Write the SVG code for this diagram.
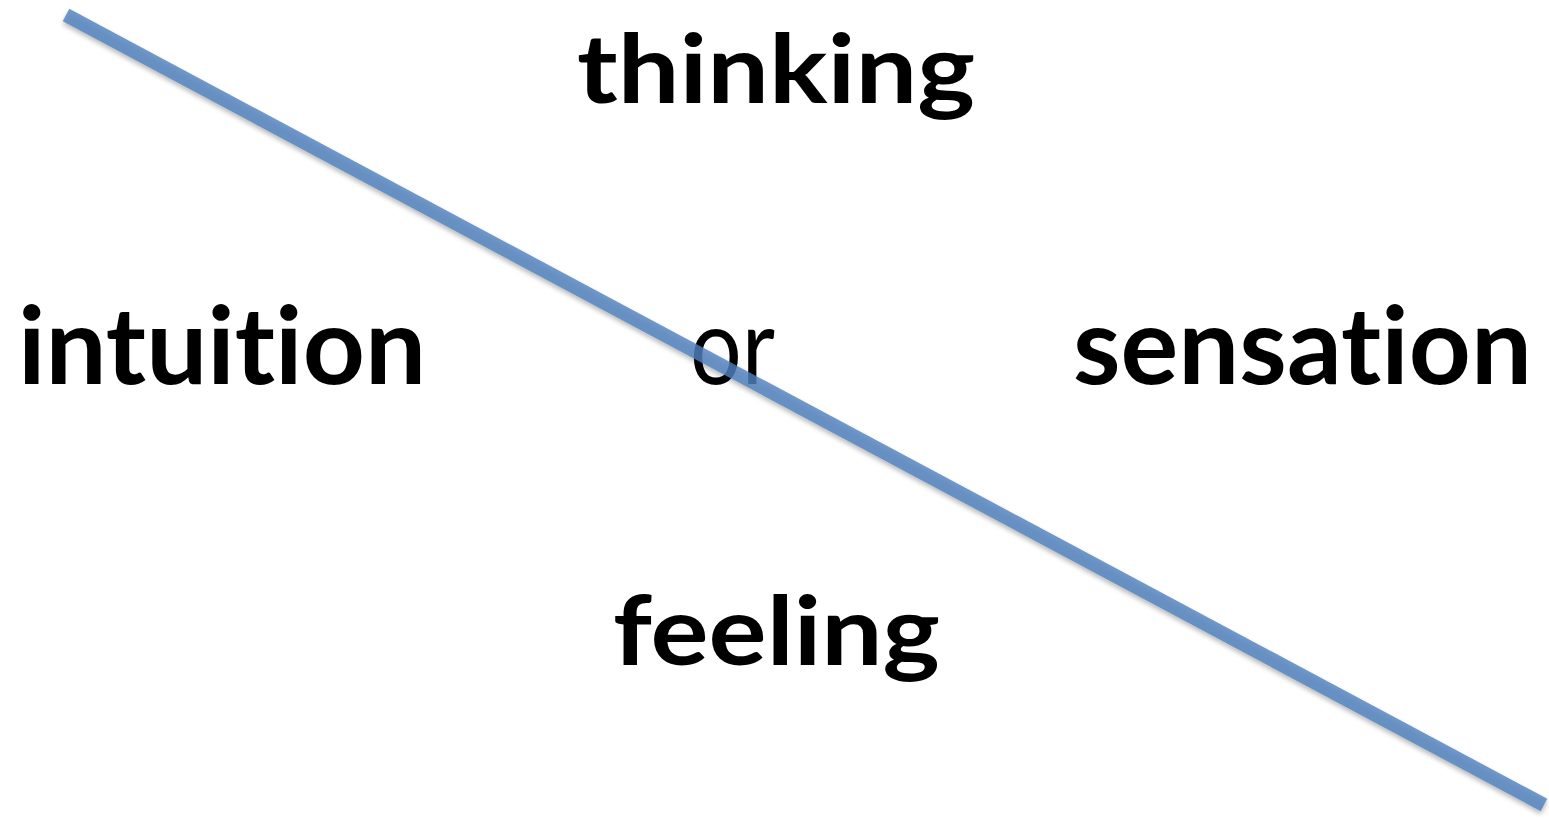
<svg xmlns="http://www.w3.org/2000/svg" width="1549" height="819" viewBox="0 0 1549 819">
<style>
text{font-family:Lato,"Open Sans","Liberation Sans",sans-serif;font-size:96px;fill:#000;font-variant-ligatures:none;font-feature-settings:"liga" 0,"clig" 0}
.w{font-weight:700}
.m{font-size:107px}
.r{font-weight:400}
</style>
<defs>
<filter id="sh" x="-5%" y="-5%" width="110%" height="110%">
<feGaussianBlur in="SourceAlpha" stdDeviation="2.5"/>
<feOffset dx="0" dy="3" result="b"/>
<feComponentTransfer><feFuncA type="linear" slope="0.35"/></feComponentTransfer>
<feMerge><feMergeNode/><feMergeNode in="SourceGraphic"/></feMerge>
</filter>
</defs>
<rect width="1549" height="819" fill="#fff"/>
<g id="thinking"><text class="w" x="577" y="103" textLength="398" lengthAdjust="spacingAndGlyphs">thinking</text></g>
<g id="intuition"><text class="w m" x="18" y="384" textLength="408" lengthAdjust="spacingAndGlyphs">intuition</text></g>
<g id="or"><text class="r m" x="690" y="384" textLength="85" lengthAdjust="spacingAndGlyphs">or</text></g>
<g id="sensation"><text class="w m" x="1073" y="384" textLength="459" lengthAdjust="spacingAndGlyphs">sensation</text></g>
<g id="feeling"><text class="w" x="613" y="665" textLength="327" lengthAdjust="spacingAndGlyphs">feeling</text></g>
<g id="connectors">
<line x1="66" y1="15" x2="1544" y2="805" stroke="#4f7fbd" stroke-opacity="0.8" stroke-width="14" filter="url(#sh)"/>
</g>
</svg>
